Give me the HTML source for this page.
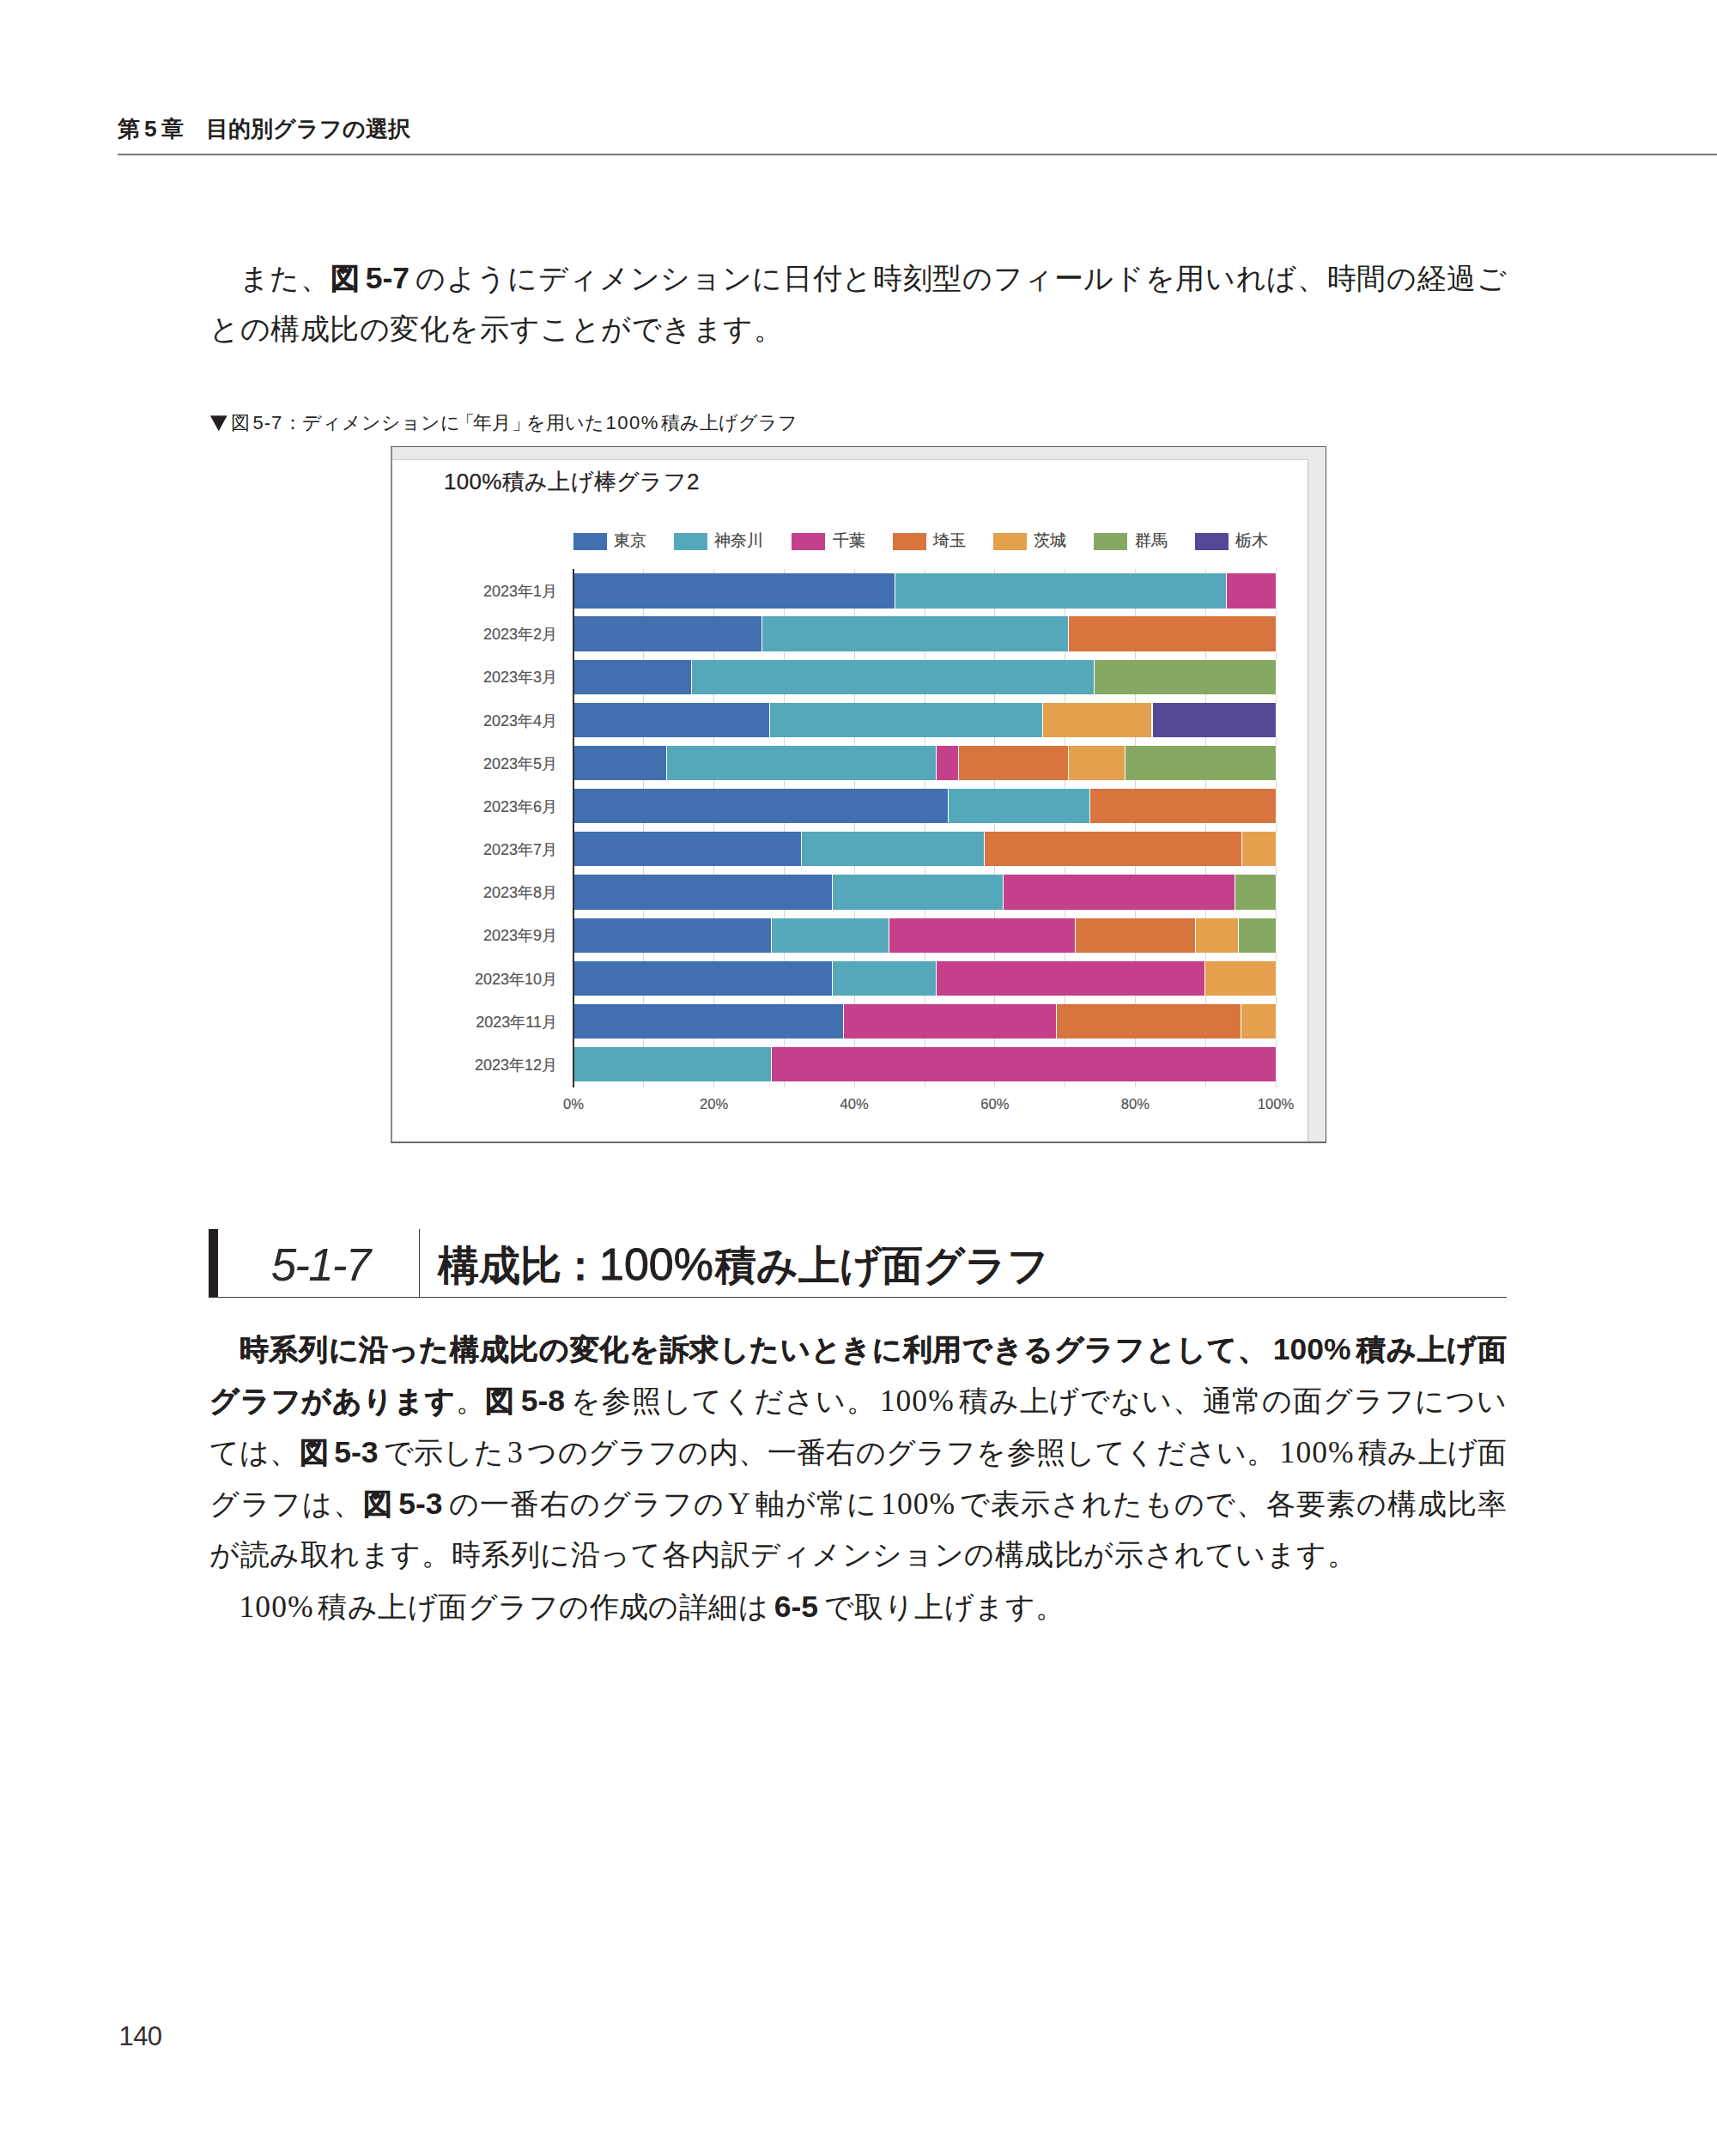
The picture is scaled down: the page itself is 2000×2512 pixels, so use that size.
<!DOCTYPE html>
<html lang="ja">
<head>
<meta charset="utf-8">
<title>第5章 目的別グラフの選択</title>
<style>
html,body{margin:0;padding:0;background:#fff;}
body{width:2000px;height:2512px;position:relative;overflow:hidden;color:#231f20;font-family:"Liberation Serif",serif;}
.abs{position:absolute;}
.sans{font-family:"Liberation Sans",sans-serif;}
.serif{font-family:"Liberation Serif",serif;}
.ln{position:absolute;left:244px;width:1511px;height:60px;line-height:60px;font-size:34px;white-space:nowrap;text-align:justify;text-align-last:justify;font-family:"Liberation Serif",serif;color:#231f20;}
.ln b{font-family:"Liberation Sans",sans-serif;font-weight:bold;-webkit-text-stroke:0.45px #231f20;}
.ln .n{margin:0 0.12em;font-size:35.5px;letter-spacing:1.1px;}
.ln b .n,.ln b.n{margin:0 0.18em;letter-spacing:0;-webkit-text-stroke:0;}
.hdr{left:137px;top:130px;font-size:26.3px;line-height:40px;font-weight:bold;white-space:nowrap;color:#231f20;}
.cap{left:244px;top:477px;width:700px;height:32px;font-size:22.1px;line-height:32px;white-space:nowrap;color:#231f20;}
.ctitle{left:517px;top:543px;font-size:26px;letter-spacing:0.3px;-webkit-text-stroke:0.25px #262223;line-height:36px;white-space:nowrap;color:#262223;}
.lg{top:620.5px;width:39px;height:20px;}
.lgt{top:616px;font-size:19px;line-height:28px;white-space:nowrap;color:#454545;-webkit-text-stroke:0.2px #454545;}
.yl{left:440px;width:209px;text-align:right;font-size:18px;line-height:24px;height:24px;white-space:nowrap;color:#555;-webkit-text-stroke:0.2px #555;}
.xl{width:80px;text-align:center;top:1274.6px;font-size:16.6px;line-height:24px;white-space:nowrap;color:#555;-webkit-text-stroke:0.2px #555;}
.grid{top:662.5px;width:1px;height:604px;background:#d6d6d6;}
.bar{height:40.3px;}
.seg{position:absolute;top:0;height:100%;box-shadow:1px 0 0 #fff;}
</style>
</head>
<body>

<div class="abs sans hdr">第<span style="margin:0 5px;">5</span>章　目的別グラフの選択</div>
<div class="abs" style="left:137px;top:179px;width:1863px;height:2px;background:#777475;"></div>
<div class="ln" style="top:294.3px;">　また、<b>図<span class="n">5-7</span></b>のようにディメンションに日付と時刻型のフィールドを用いれば、時間の経過ご</div>
<div class="ln" style="top:354.3px;width:668px;">との構成比の変化を示すことができます。</div>
<svg class="abs" style="left:244px;top:483px;" width="22" height="21" viewBox="0 0 22 21"><polygon points="0.9,1.3 20.6,1.3 10.75,19.3" fill="#231f20"/></svg>
<div class="abs sans cap"><span class="abs" style="left:25.2px;top:0;">図</span><span class="abs" style="left:50.6px;top:0;"><span style="letter-spacing:0.9px">5-7</span></span><span class="abs" style="left:86px;top:0;">：</span><span class="abs" style="left:108px;top:0;">ディメンションに</span><span class="abs" style="left:286.5px;top:0;">「</span><span class="abs" style="left:307px;top:0;">年月</span><span class="abs" style="left:352px;top:0;">」</span><span class="abs" style="left:369px;top:0;">を用いた</span><span class="abs" style="left:461.6px;top:0;"><span style="letter-spacing:1.4px">100%</span></span><span class="abs" style="left:525.5px;top:0;">積み上げグラフ</span></div>
<div class="abs" style="left:455px;top:520px;width:1090px;height:812px;background:#ebe9ea;"></div>
<div class="abs" style="left:457px;top:536px;width:1066px;height:794px;background:#fff;box-shadow:1px 0 1.5px rgba(60,50,60,0.22),0 -1px 1.5px rgba(60,50,60,0.10);"></div>
<div class="abs" style="left:457px;top:521px;width:1087px;height:1px;background:#f6f5f6;"></div>
<div class="abs" style="left:1543px;top:521px;width:1px;height:809px;background:#f6f5f6;"></div>
<div class="abs" style="left:455px;top:520px;width:2px;height:812px;background:#8c898a;"></div>
<div class="abs" style="left:455px;top:520px;width:1090px;height:1px;background:#524e4f;"></div>
<div class="abs" style="left:1544px;top:520px;width:1px;height:812px;background:#4d4a4b;"></div>
<div class="abs" style="left:455px;top:1330px;width:1090px;height:2px;background:#6e696a;"></div>
<div class="abs sans ctitle">100%積み上げ棒グラフ2</div>
<div class="abs lg" style="left:667.6px;background:#416fb0;"></div><div class="abs sans lgt" style="left:714.8px;">東京</div>
<div class="abs lg" style="left:785px;background:#55a8b9;"></div><div class="abs sans lgt" style="left:831.8px;">神奈川</div>
<div class="abs lg" style="left:922px;background:#c4408a;"></div><div class="abs sans lgt" style="left:969.8px;">千葉</div>
<div class="abs lg" style="left:1039.5px;background:#d8743d;"></div><div class="abs sans lgt" style="left:1086.7px;">埼玉</div>
<div class="abs lg" style="left:1156.9px;background:#e5a04d;"></div><div class="abs sans lgt" style="left:1204.4px;">茨城</div>
<div class="abs lg" style="left:1274.3px;background:#87a862;"></div><div class="abs sans lgt" style="left:1321.5px;">群馬</div>
<div class="abs lg" style="left:1391.7px;background:#574897;"></div><div class="abs sans lgt" style="left:1438.9px;">栃木</div>
<div class="abs grid" style="left:749.3px;"></div>
<div class="abs grid" style="left:831.1px;"></div>
<div class="abs grid" style="left:912.9px;"></div>
<div class="abs grid" style="left:994.7px;"></div>
<div class="abs grid" style="left:1076.5px;"></div>
<div class="abs grid" style="left:1158.3px;"></div>
<div class="abs grid" style="left:1240.1px;"></div>
<div class="abs grid" style="left:1321.9px;"></div>
<div class="abs grid" style="left:1403.7px;"></div>
<div class="abs grid" style="left:1485.5px;"></div>
<div class="abs sans yl" style="top:677.1px;">2023年1月</div>
<div class="abs bar" style="left:668px;top:668.3px;width:818px;"><div class="seg" style="left:0.0px;width:374.1px;background:#416fb0;"></div><div class="seg" style="left:375.1px;width:385.1px;background:#55a8b9;"></div><div class="seg" style="left:761.2px;width:56.8px;background:#c4408a;"></div></div>
<div class="abs sans yl" style="top:727.3px;">2023年2月</div>
<div class="abs bar" style="left:668px;top:718.4px;width:818px;"><div class="seg" style="left:0.0px;width:218.7px;background:#416fb0;"></div><div class="seg" style="left:219.7px;width:356.5px;background:#55a8b9;"></div><div class="seg" style="left:577.2px;width:240.8px;background:#d8743d;"></div></div>
<div class="abs sans yl" style="top:777.4px;">2023年3月</div>
<div class="abs bar" style="left:668px;top:768.6px;width:818px;"><div class="seg" style="left:0.0px;width:137.3px;background:#416fb0;"></div><div class="seg" style="left:138.3px;width:467.3px;background:#55a8b9;"></div><div class="seg" style="left:606.6px;width:211.4px;background:#87a862;"></div></div>
<div class="abs sans yl" style="top:827.6px;">2023年4月</div>
<div class="abs bar" style="left:668px;top:818.8px;width:818px;"><div class="seg" style="left:0.0px;width:227.7px;background:#416fb0;"></div><div class="seg" style="left:228.7px;width:317.2px;background:#55a8b9;"></div><div class="seg" style="left:546.9px;width:126.6px;background:#e5a04d;"></div><div class="seg" style="left:674.5px;width:143.5px;background:#574897;"></div></div>
<div class="abs sans yl" style="top:877.8px;">2023年5月</div>
<div class="abs bar" style="left:668px;top:868.9px;width:818px;"><div class="seg" style="left:0.0px;width:108.3px;background:#416fb0;"></div><div class="seg" style="left:109.3px;width:313.1px;background:#55a8b9;"></div><div class="seg" style="left:423.4px;width:24.4px;background:#c4408a;"></div><div class="seg" style="left:448.8px;width:127.4px;background:#d8743d;"></div><div class="seg" style="left:577.2px;width:65.3px;background:#e5a04d;"></div><div class="seg" style="left:643.4px;width:174.6px;background:#87a862;"></div></div>
<div class="abs sans yl" style="top:927.9px;">2023年6月</div>
<div class="abs bar" style="left:668px;top:919.0px;width:818px;"><div class="seg" style="left:0.0px;width:435.5px;background:#416fb0;"></div><div class="seg" style="left:436.5px;width:164.2px;background:#55a8b9;"></div><div class="seg" style="left:601.7px;width:216.3px;background:#d8743d;"></div></div>
<div class="abs sans yl" style="top:978.0px;">2023年7月</div>
<div class="abs bar" style="left:668px;top:969.2px;width:818px;"><div class="seg" style="left:0.0px;width:265.4px;background:#416fb0;"></div><div class="seg" style="left:266.4px;width:211.7px;background:#55a8b9;"></div><div class="seg" style="left:479.0px;width:299.2px;background:#d8743d;"></div><div class="seg" style="left:779.2px;width:38.8px;background:#e5a04d;"></div></div>
<div class="abs sans yl" style="top:1028.2px;">2023年8月</div>
<div class="abs bar" style="left:668px;top:1019.3px;width:818px;"><div class="seg" style="left:0.0px;width:301.3px;background:#416fb0;"></div><div class="seg" style="left:302.3px;width:197.8px;background:#55a8b9;"></div><div class="seg" style="left:501.1px;width:268.9px;background:#c4408a;"></div><div class="seg" style="left:771.1px;width:46.9px;background:#87a862;"></div></div>
<div class="abs sans yl" style="top:1078.4px;">2023年9月</div>
<div class="abs bar" style="left:668px;top:1069.5px;width:818px;"><div class="seg" style="left:0.0px;width:230.2px;background:#416fb0;"></div><div class="seg" style="left:231.2px;width:135.6px;background:#55a8b9;"></div><div class="seg" style="left:367.8px;width:216.6px;background:#c4408a;"></div><div class="seg" style="left:585.4px;width:138.9px;background:#d8743d;"></div><div class="seg" style="left:725.2px;width:48.9px;background:#e5a04d;"></div><div class="seg" style="left:775.1px;width:42.9px;background:#87a862;"></div></div>
<div class="abs sans yl" style="top:1128.5px;">2023年10月</div>
<div class="abs bar" style="left:668px;top:1119.6px;width:818px;"><div class="seg" style="left:0.0px;width:300.5px;background:#416fb0;"></div><div class="seg" style="left:301.5px;width:120.9px;background:#55a8b9;"></div><div class="seg" style="left:423.4px;width:311.5px;background:#c4408a;"></div><div class="seg" style="left:735.9px;width:82.1px;background:#e5a04d;"></div></div>
<div class="abs sans yl" style="top:1178.7px;">2023年11月</div>
<div class="abs bar" style="left:668px;top:1169.8px;width:818px;"><div class="seg" style="left:0.0px;width:313.6px;background:#416fb0;"></div><div class="seg" style="left:314.6px;width:247.7px;background:#c4408a;"></div><div class="seg" style="left:563.3px;width:213.3px;background:#d8743d;"></div><div class="seg" style="left:777.6px;width:40.4px;background:#e5a04d;"></div></div>
<div class="abs sans yl" style="top:1228.8px;">2023年12月</div>
<div class="abs bar" style="left:668px;top:1219.9px;width:818px;"><div class="seg" style="left:0.0px;width:230.2px;background:#55a8b9;"></div><div class="seg" style="left:231.2px;width:586.8px;background:#c4408a;"></div></div>
<div class="abs" style="left:667.2px;top:662.5px;width:2px;height:604px;background:#333132;"></div>
<div class="abs sans xl" style="left:628.0px;">0%</div>
<div class="abs sans xl" style="left:791.6px;">20%</div>
<div class="abs sans xl" style="left:955.2px;">40%</div>
<div class="abs sans xl" style="left:1118.8px;">60%</div>
<div class="abs sans xl" style="left:1282.4px;">80%</div>
<div class="abs sans xl" style="left:1446.0px;">100%</div>
<div class="abs" style="left:243px;top:1432px;width:11px;height:80px;background:#231f20;"></div>
<div class="abs" style="left:243px;top:1511px;width:1512px;height:1px;background:#433f40;"></div>
<div class="abs" style="left:488px;top:1432px;width:1px;height:80px;background:#433f40;"></div>
<div class="abs sans" style="left:273px;top:1444px;width:200px;text-align:center;font-size:53px;letter-spacing:-1.8px;line-height:60px;font-style:italic;white-space:nowrap;color:#2e2a2b;">5-1-7</div>
<div class="abs sans" style="left:510px;top:1443px;font-size:48px;line-height:60px;font-weight:bold;white-space:nowrap;color:#231f20;">構成比<span style="display:inline-block;width:44px;text-align:center;"><span style="margin:0 -10px;">：</span></span><span style="font-size:52px;font-weight:normal;-webkit-text-stroke:0.9px #231f20;margin-right:2px;">100%</span>積み上げ面グラフ</div>
<div class="ln" style="top:1542.3px;"><b>　時系列に沿った構成比の変化を訴求したいときに利用できるグラフとして、<span class="n">100%</span>積み上げ面</b></div>
<div class="ln" style="top:1602.3px;"><b>グラフがあります</b>。<b>図<span class="n">5-8</span></b>を参照してください。<span class="n">100%</span>積み上げでない、通常の面グラフについ</div>
<div class="ln" style="top:1662.3px;">ては、<b>図<span class="n">5-3</span></b>で示した<span class="n">3</span>つのグラフの内、一番右のグラフを参照してください。<span class="n">100%</span>積み上げ面</div>
<div class="ln" style="top:1722.3px;">グラフは、<b>図<span class="n">5-3</span></b>の一番右のグラフの<span class="n">Y</span>軸が常に<span class="n">100%</span>で表示されたもので、各要素の構成比率</div>
<div class="ln" style="top:1782.3px;width:1336px;">が読み取れます。時系列に沿って各内訳ディメンションの構成比が示されています。</div>
<div class="ln" style="top:1842.3px;width:996px;">　<span class="n" style="margin-left:0">100%</span>積み上げ面グラフの作成の詳細は<b class="n">6-5</b>で取り上げます。</div>
<div class="abs sans" style="left:138.5px;top:2352.5px;font-size:31px;letter-spacing:-0.6px;line-height:40px;white-space:nowrap;color:#353132;">140</div>
</body>
</html>
